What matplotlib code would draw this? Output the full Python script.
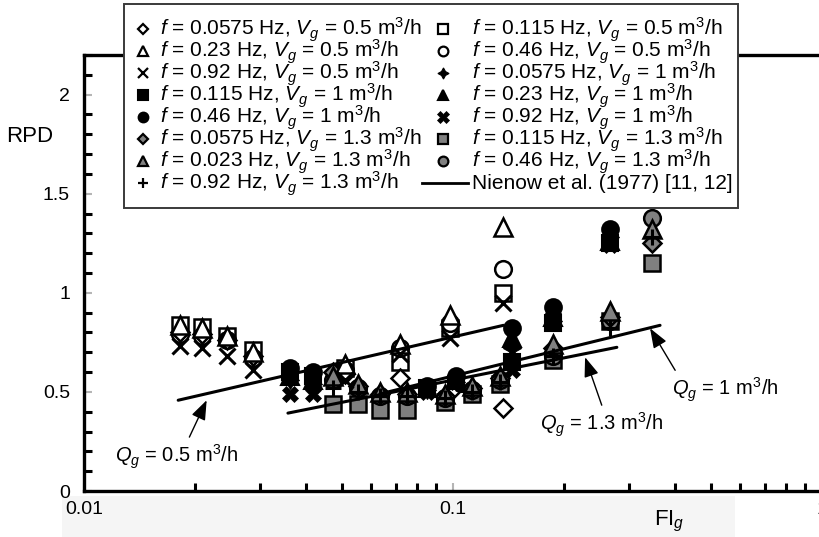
#!/usr/bin/env python3
"""RPD versus gassed flow number FI_g, with the Nienow et al. (1977) lines."""

import matplotlib

matplotlib.use("Agg")
import matplotlib.pyplot as plt
from matplotlib.lines import Line2D
from matplotlib.patches import Rectangle
from matplotlib.ticker import FixedLocator, LogLocator, MultipleLocator, NullFormatter

FIG_W, FIG_H = 820, 537
GRAY = "#808080"

plt.rcParams["font.family"] = ["Liberation Sans", "DejaVu Sans"]
plt.rcParams["mathtext.fontset"] = "custom"
plt.rcParams["mathtext.rm"] = "Liberation Sans"
plt.rcParams["mathtext.it"] = "Liberation Sans:italic"
plt.rcParams["mathtext.bf"] = "Liberation Sans:bold"

# ---- data ---------------------------------------------------------------
# FI_g positions of the three gas flow groups
FI_VG05 = [0.0182, 0.0209, 0.0244, 0.0287, 0.0509, 0.0718, 0.098, 0.137]
FI_VG1 = [0.0362, 0.0418, 0.085, 0.102, 0.1445, 0.187, 0.266]
FI_VG13 = [0.0473, 0.0553, 0.0634, 0.075, 0.095, 0.1126, 0.134, 0.187, 0.266, 0.346]

# Vg = 0.5 m3/h
RPD_F0575_V05 = [0.80, 0.79, 0.76, 0.68, 0.59, 0.57, 0.50, 0.42]
RPD_F023_V05 = [0.84, 0.82, 0.78, 0.70, 0.64, 0.74, 0.89, 1.33]
RPD_F092_V05 = [0.73, 0.72, 0.68, 0.61, 0.56, 0.69, 0.77, 0.95]
RPD_F0115_V05 = [0.84, 0.83, 0.78, 0.71, 0.62, 0.65, 0.82, 1.00]
RPD_F046_V05 = [0.79, 0.78, 0.76, 0.67, 0.61, 0.72, 0.85, 1.12]

# Vg = 1 m3/h
RPD_F0115_V1 = [0.60, 0.58, 0.52, 0.54, 0.65, 0.85, 1.25]
RPD_F046_V1 = [0.62, 0.60, 0.53, 0.58, 0.82, 0.93, 1.32]
RPD_F0575_V1 = [0.56, 0.54, 0.51, 0.55, 0.72, 0.86, 1.28]
RPD_F023_V1 = [0.58, 0.56, 0.52, 0.56, 0.77, 0.88, 1.26]
RPD_F092_V1 = [0.49, 0.49, 0.50, 0.55, 0.61, 0.88, 1.24]

# Vg = 1.3 m3/h
RPD_F0575_V13 = [0.60, 0.53, 0.49, 0.49, 0.48, 0.52, 0.57, 0.72, 0.88, 1.25]
RPD_F023_V13 = [0.58, 0.54, 0.50, 0.50, 0.49, 0.53, 0.58, 0.74, 0.91, 1.32]
RPD_F092_V13 = [0.52, 0.50, 0.48, 0.48, 0.47, 0.50, 0.55, 0.68, 0.82, 1.28]
RPD_F0115_V13 = [0.44, 0.44, 0.41, 0.41, 0.45, 0.49, 0.54, 0.66, 0.86, 1.15]
RPD_F046_V13 = [0.56, 0.52, 0.48, 0.48, 0.47, 0.51, 0.56, 0.68, 0.86, 1.38]

# Nienow et al. (1977) correlation lines, end points
NIENOW_V05_FI = [0.018, 0.137]
NIENOW_V05_RPD = [0.458, 0.836]
NIENOW_V1_FI = [0.0634, 0.364]
NIENOW_V1_RPD = [0.49, 0.836]
NIENOW_V13_FI = [0.0357, 0.278]
NIENOW_V13_RPD = [0.393, 0.725]

NIENOW_LABEL = "Nienow et al. (1977) [11, 12]"

# ---- marker styles --------------------------------------------------------
STYLES = {
    "dia_open": dict(marker="D", ms=9.5, mfc="white", mec="black", mew=1.8, lms=5, z=5),
    "tri_open": dict(marker="^", ms=13, mfc="white", mec="black", mew=1.8, lms=7.5, z=6),
    "x_thin": dict(marker="x", ms=11, mfc="black", mec="black", mew=2.2, lms=6.5, z=7),
    "sq_black": dict(marker="s", ms=12, mfc="black", mec="black", mew=1.5, lms=6.5, z=3),
    "circ_black": dict(marker="o", ms=12, mfc="black", mec="black", mew=1.5, lms=7, z=4),
    "dia_gray": dict(marker="D", ms=9.5, mfc=GRAY, mec="black", mew=1.8, lms=5, z=5),
    "tri_gray": dict(marker="^", ms=13, mfc=GRAY, mec="black", mew=1.8, lms=7.5, z=6),
    "plus": dict(marker="+", ms=12, mfc="black", mec="black", mew=2.2, lms=7, z=7),
    "sq_open": dict(marker="s", ms=12, mfc="white", mec="black", mew=1.8, lms=6.5, z=3),
    "circ_open": dict(marker="o", ms=12, mfc="white", mec="black", mew=1.8, lms=7, z=4),
    "star_black": dict(marker=(4, 1, 0), ms=13, mfc="black", mec="black", mew=0.8, lms=8, z=5),
    "tri_black": dict(marker="^", ms=13, mfc="black", mec="black", mew=1.5, lms=7, z=6),
    "x_heavy": dict(marker="X", ms=12, mfc="black", mec="black", mew=0.5, lms=8, z=7),
    "sq_gray": dict(marker="s", ms=12, mfc=GRAY, mec="black", mew=1.8, lms=6.5, z=3),
    "circ_gray": dict(marker="o", ms=12, mfc=GRAY, mec="black", mew=1.8, lms=7, z=4),
}


def lab(f: str, vg: str) -> str:
    return rf"$f$ = {f} Hz, $V_g$ = {vg} m$^3$/h"


# legend order: first column, then second column
SERIES = [
    (lab("0.0575", "0.5"), FI_VG05, RPD_F0575_V05, "dia_open"),
    (lab("0.23", "0.5"), FI_VG05, RPD_F023_V05, "tri_open"),
    (lab("0.92", "0.5"), FI_VG05, RPD_F092_V05, "x_thin"),
    (lab("0.115", "1"), FI_VG1, RPD_F0115_V1, "sq_black"),
    (lab("0.46", "1"), FI_VG1, RPD_F046_V1, "circ_black"),
    (lab("0.0575", "1.3"), FI_VG13, RPD_F0575_V13, "dia_gray"),
    (lab("0.023", "1.3"), FI_VG13, RPD_F023_V13, "tri_gray"),
    (lab("0.92", "1.3"), FI_VG13, RPD_F092_V13, "plus"),
    (lab("0.115", "0.5"), FI_VG05, RPD_F0115_V05, "sq_open"),
    (lab("0.46", "0.5"), FI_VG05, RPD_F046_V05, "circ_open"),
    (lab("0.0575", "1"), FI_VG1, RPD_F0575_V1, "star_black"),
    (lab("0.23", "1"), FI_VG1, RPD_F023_V1, "tri_black"),
    (lab("0.92", "1"), FI_VG1, RPD_F092_V1, "x_heavy"),
    (lab("0.115", "1.3"), FI_VG13, RPD_F0115_V13, "sq_gray"),
    (lab("0.46", "1.3"), FI_VG13, RPD_F046_V13, "circ_gray"),
]


def fx(px: float) -> float:
    return px / FIG_W


def fy(py: float) -> float:
    return 1 - py / FIG_H


def draw_legend(fig) -> None:
    """Boxed two-column key drawn on top of the axes, like the original."""
    fig.add_artist(Rectangle((fx(124), fy(208)), fx(738) - fx(124), fy(4) - fy(208),
                             transform=fig.transFigure, facecolor="white",
                             edgecolor="#3a3a3a", linewidth=1.4, zorder=3))
    entries = [(s[0], s[3]) for s in SERIES] + [(NIENOW_LABEL, None)]
    for i, (label, key) in enumerate(entries):
        col, row = divmod(i, 8)
        base = 35 + 22 * row
        mark_x, text_x = (143, 160) if col == 0 else (443, 472)
        if key is None:
            fig.add_artist(Line2D([fx(422), fx(468)], [fy(base - 6)] * 2, color="black",
                                  linewidth=2, transform=fig.transFigure, zorder=4))
        else:
            st = STYLES[key]
            fig.add_artist(Line2D([fx(mark_x)], [fy(base - 6)], linestyle="none",
                                  marker=st["marker"], markersize=st["lms"],
                                  markerfacecolor=st["mfc"], markeredgecolor=st["mec"],
                                  markeredgewidth=min(st["mew"], 1.6),
                                  transform=fig.transFigure, zorder=4))
        fig.text(fx(text_x), fy(base), label, fontsize=15, va="baseline", ha="left",
                 zorder=4)


def main() -> None:
    fig = plt.figure(figsize=(FIG_W / 100, FIG_H / 100), dpi=100)
    ax = fig.add_axes([fx(84), fy(491), fx(822) - fx(84), fy(55) - fy(491)])

    # faint scan shading under the x axis
    fig.add_artist(Rectangle((fx(62), 0), fx(735) - fx(62), fy(496), transform=fig.transFigure,
                             facecolor="#f5f5f5", edgecolor="none", zorder=-1))

    for label, fi, rpd, key in SERIES:
        st = STYLES[key]
        ax.plot(fi, rpd, linestyle="none", marker=st["marker"], markersize=st["ms"],
                markerfacecolor=st["mfc"], markeredgecolor=st["mec"],
                markeredgewidth=st["mew"], zorder=st["z"], clip_on=False)

    for xs, ys in ((NIENOW_V05_FI, NIENOW_V05_RPD), (NIENOW_V1_FI, NIENOW_V1_RPD),
                   (NIENOW_V13_FI, NIENOW_V13_RPD)):
        ax.plot(xs, ys, color="black", linewidth=2.2, solid_capstyle="round", zorder=9)

    arrow = dict(arrowstyle="-|>,head_length=0.8,head_width=0.3", color="black",
                 linewidth=1.0, mutation_scale=15, shrinkA=0, shrinkB=0)
    notes = [
        (r"$Q_g$ = 0.5 m$^3$/h", (0.0121, 0.146), (0.0193, 0.272), (0.0215, 0.458)),
        (r"$Q_g$ = 1.3 m$^3$/h", (0.172, 0.307), (0.253, 0.433), (0.228, 0.675)),
        (r"$Q_g$ = 1 m$^3$/h", (0.392, 0.483), (0.400, 0.609), (0.342, 0.821)),
    ]
    for text, pos, tail, head in notes:
        ax.text(*pos, text, fontsize=14.5, ha="left", va="baseline", zorder=10)
        ax.annotate("", xy=head, xytext=tail, arrowprops=arrow, zorder=10)

    ax.set_xscale("log")
    ax.set_xlim(0.01, 1)
    ax.set_ylim(0, 2.2)
    ax.xaxis.set_major_locator(FixedLocator([0.01, 0.1, 1]))
    ax.set_xticklabels(["0.01", "0.1", "1"])
    ax.xaxis.set_minor_locator(LogLocator(base=10, subs=range(2, 10)))
    ax.xaxis.set_minor_formatter(NullFormatter())
    ax.set_yticks([0, 0.5, 1, 1.5, 2])
    ax.set_yticklabels(["0", "0.5", "1", "1.5", "2"])
    ax.yaxis.set_minor_locator(MultipleLocator(0.1))

    ax.tick_params(which="both", direction="in", labelsize=14, labelcolor="black")
    ax.tick_params(which="major", length=6, width=1.5, color="#b5b5b5")
    ax.tick_params(which="minor", length=6, width=2.2, color="black")
    ax.tick_params(axis="y", which="major", pad=10)
    ax.tick_params(axis="x", which="major", pad=7)

    for side in ("left", "bottom", "top"):
        ax.spines[side].set_linewidth(2.4)
        ax.spines[side].set_color("black")
    ax.spines["right"].set_visible(False)

    ax.set_ylabel("RPD", fontsize=16, rotation=0, ha="center", va="center")
    ax.yaxis.set_label_coords(-0.073, 0.812)
    ax.set_xlabel("FI$_g$", fontsize=16)
    ax.xaxis.set_label_coords(0.793, -0.04)

    draw_legend(fig)
    fig.savefig("out.png", dpi=100)
    plt.close(fig)


if __name__ == "__main__":
    main()
